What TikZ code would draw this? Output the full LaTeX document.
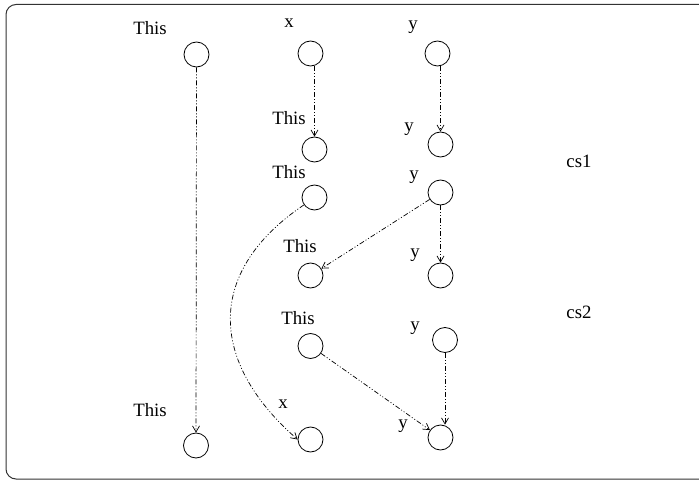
\documentclass[tikz,border=0pt]{standalone}
\usepackage{fontspec}
\setmainfont{Liberation Serif}
\usetikzlibrary{arrows.meta,calc}
\begin{document}
\begin{tikzpicture}[x=1pt,y=-1pt,
  state/.style={circle,draw,line width=0.8pt,minimum size=25pt,inner sep=0pt},
  lbl/.style={font=\fontsize{18.8}{20}\selectfont,inner sep=0pt,anchor=base},
  flow/.style={line width=0.7pt,dash pattern=on 5pt off 2pt on 1pt off 2pt on 1pt off 2pt,
    -{Straight Barb[length=6pt,width=7pt]}}]
\useasboundingbox (0,0) rectangle (699,481);
\begin{scope}
\clip (0,0) rectangle (699,481);
\draw[line width=1pt,draw=black!80,rounded corners=10pt] (6,4.5) rectangle (712,479);
\end{scope}
% circles
\node[state] (A1) at (196.5,54.5) {};
\node[state] (A2) at (196,445.5) {};
\node[state] (x1) at (310.5,53.5) {};
\node[state] (x2) at (314.5,149.5) {};
\node[state] (x3) at (314.5,197.5) {};
\node[state] (x4) at (310.5,275.5) {};
\node[state] (x5) at (310.5,346) {};
\node[state] (x6) at (310.5,439.5) {};
\node[state] (y1) at (437.5,53.5) {};
\node[state] (y2) at (440.5,144.5) {};
\node[state] (y3) at (440.5,192.5) {};
\node[state] (y4) at (440.5,275.5) {};
\node[state] (y5) at (445,340) {};
\node[state] (y6) at (440.5,437.5) {};
% labels
\node[lbl] (lA1) at (150,35) {This};
\node[lbl] (lA2) at (150,416) {This};
\node[lbl] (lx1) at (289,28) {x};
\node[lbl] (lx2) at (289,125) {This};
\node[lbl] (lx3) at (289,179) {This};
\node[lbl] (lx4) at (300,253) {This};
\node[lbl] (lx5) at (298,324) {This};
\node[lbl] (lx6) at (283,408) {x};
\node[lbl] (ly1) at (413,30) {y};
\node[lbl] (ly2) at (409,132) {y};
\node[lbl] (ly3) at (414,180) {y};
\node[lbl] (ly4) at (415,258) {y};
\node[lbl] (ly5) at (415,330) {y};
\node[lbl] (ly6) at (403,428) {y};
\node[lbl] (cs1) at (579,168) {cs1};
\node[lbl] (cs2) at (579,318) {cs2};
% connectors
\draw[flow] (A1) -- (A2);
\draw[flow] (x2 |- x1.south) -- (x2.north);
\draw[flow] (y2 |- y1.south) -- (y2.north);
\draw[flow] (x3.215) .. controls (206,271) and (208,361) .. (x6.west);
\draw[flow] (y3) -- (x4);
\draw[flow] (y3) -- (y4);
\draw[flow] (x5) -- (y6);
\draw[flow] (y5.south) -- (y6.north -| y5.south);
\end{tikzpicture}
\end{document}
